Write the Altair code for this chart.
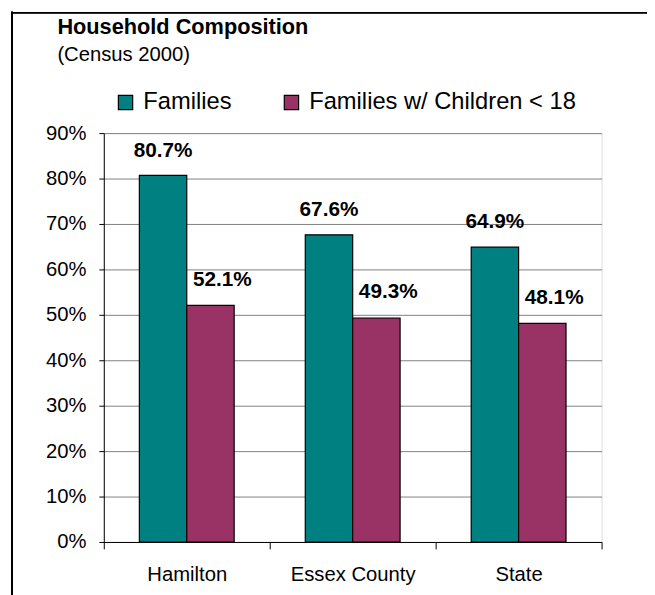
import altair as alt
import pandas as pd

regions = ["Hamilton", "Essex County", "State"]
series = ["Families", "Families w/ Children < 18"]
families = [80.7, 67.6, 64.9]
with_children = [52.1, 49.3, 48.1]
colors = ["#008080", "#993366"]

rows = []
for i, r in enumerate(regions):
    rows.append({"region": r, "series": series[0], "value": families[i]})
    rows.append({"region": r, "series": series[1], "value": with_children[i]})
df = pd.DataFrame(rows)

FONT = "Liberation Sans"

x_enc = alt.X("region:N", sort=regions,
              scale=alt.Scale(paddingInner=0, paddingOuter=0),
              axis=alt.Axis(title=None, labelAngle=0, tickBand="extent",
                            labelFontSize=20.5, labelPadding=16, tickSize=7,
                            domainColor="black", tickColor="black",
                            labelColor="black", labelFont=FONT, grid=False))
xoff = alt.XOffset("series:N", sort=series,
                   scale=alt.Scale(paddingInner=0, paddingOuter=0.75))
y_enc = alt.Y("value:Q", scale=alt.Scale(domain=[0, 90]),
              axis=alt.Axis(title=None, values=list(range(0, 91, 10)),
                            labelExpr="datum.value + '%'",
                            labelFontSize=20.5, labelFont=FONT, labelColor="black",
                            tickSize=5, tickColor="black", domainColor="black",
                            gridColor="#808080", labelPadding=13))

base = alt.Chart(df)

bars = base.mark_bar(stroke="black", strokeWidth=1.2).encode(
    x=x_enc, xOffset=xoff, y=y_enc,
    color=alt.Color("series:N", sort=series,
                    scale=alt.Scale(domain=series, range=colors),
                    legend=alt.Legend(title=None, orient="none",
                                      direction="horizontal",
                                      legendX=10, legendY=-43,
                                      symbolType="square", symbolSize=210,
                                      symbolStrokeColor="black",
                                      symbolStrokeWidth=1.2,
                                      labelFontSize=24, labelFont=FONT,
                                      labelColor="black", labelLimit=0,
                                      columnPadding=48, labelOffset=6)),
)

lab_fam = base.transform_filter(alt.datum.series == series[0]).transform_calculate(
    lbl="format(datum.value, '.1f') + '%'").mark_text(
    fontWeight="bold", fontSize=21, font=FONT, dy=-19, baseline="alphabetic",
    color="black").encode(
    x=alt.X("region:N", sort=regions), xOffset=alt.XOffset("series:N", sort=series),
    y="value:Q", text="lbl:N")

lab_kid = base.transform_filter(alt.datum.series == series[1]).transform_calculate(
    lbl="format(datum.value, '.1f') + '%'").mark_text(
    fontWeight="bold", fontSize=21, font=FONT, dy=-20, dx=12, baseline="alphabetic",
    color="black").encode(
    x=alt.X("region:N", sort=regions), xOffset=alt.XOffset("series:N", sort=series),
    y="value:Q", text="lbl:N")

frame_top = base.mark_rule(color="black", strokeWidth=1.5, clip=False).encode(
    x=alt.value(-93), x2=alt.value(560), y=alt.value(-122), y2=alt.value(-122))
frame_left = base.mark_rule(color="black", strokeWidth=1.5, clip=False).encode(
    x=alt.value(-93), x2=alt.value(-93), y=alt.value(-123), y2=alt.value(470))

chart = alt.layer(bars, lab_fam, lab_kid, frame_top, frame_left).properties(
    width=504, height=414,
    padding={"left": 97, "top": 123, "right": 46, "bottom": 50},
    autosize=alt.AutoSizeParams(type="none"),
    title=alt.Title("Household Composition", subtitle="(Census 2000)",
                    anchor="start", frame="group", dx=-47, dy=56, offset=0,
                    font=FONT, fontSize=22, fontWeight="bold", color="black",
                    subtitleFont=FONT, subtitleFontSize=20.5, subtitleColor="black",
                    subtitlePadding=6),
).configure_view(stroke="#808080", strokeWidth=1).configure(background="white")

chart.save("out.html", embed_options={"renderer": "svg", "actions": False})
